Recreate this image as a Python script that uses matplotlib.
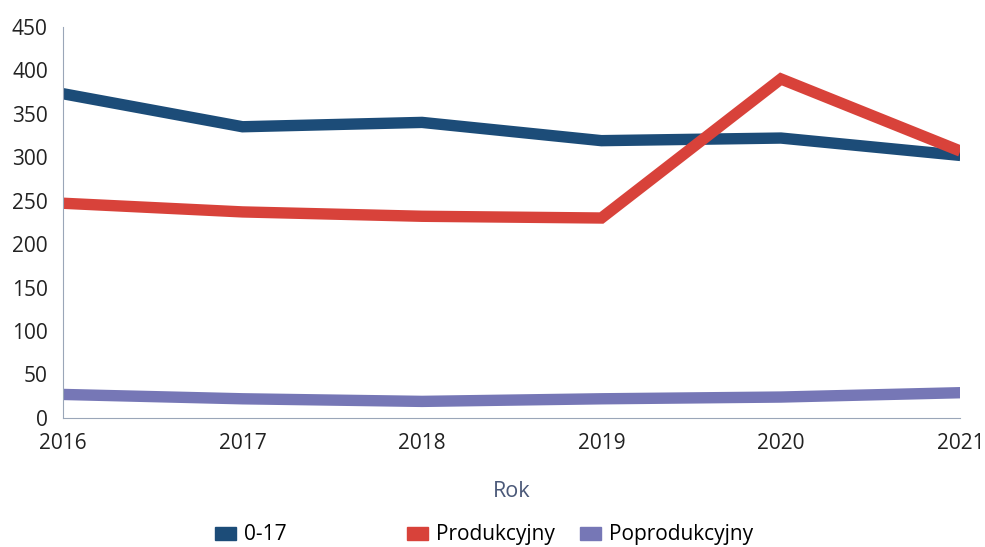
import matplotlib.pyplot as plt

plt.rcParams['font.family'] = ['Open Sans', 'DejaVu Sans']

years = [2016, 2017, 2018, 2019, 2020, 2021]
s_0_17 = [373, 335, 340, 319, 322, 302]
s_prod = [247, 237, 232, 230, 390, 307]
s_poprod = [27, 22, 19, 22, 24, 29]

labels = ['0-17', 'Produkcyjny', 'Poprodukcyjny']
colors = ['#1c4c78', '#d8423a', '#7677b6']

fig = plt.figure(figsize=(9.85, 5.47), dpi=100)
ax = fig.add_axes([0.064, 0.236, 0.911, 0.715])

for vals, lab, col in zip([s_0_17, s_prod, s_poprod], labels, colors):
    ax.plot(years, vals, color=col, lw=8.2, label=lab, solid_joinstyle='miter',
            solid_capstyle='butt')

ax.set_xlim(2016, 2021)
ax.set_ylim(0, 450)
ax.set_yticks(range(0, 451, 50))
ax.set_xticks(years)
ax.tick_params(length=0, labelsize=15, colors='#222222')
ax.tick_params(axis='y', pad=11)
ax.tick_params(axis='x', pad=11)
for s in ['top', 'right']:
    ax.spines[s].set_visible(False)
ax.spines['left'].set_color('#9aa6b8')
ax.spines['bottom'].set_color('#9aa6b8')
ax.spines['left'].set_linewidth(0.8)
ax.spines['bottom'].set_linewidth(0.8)

ax.set_xlabel('Rok', fontsize=15.5, color='#4a5878', labelpad=19)

# legend entries sit at fixed slots, not evenly packed
slots = [0.218, 0.413, 0.589]
for lab, col, x in zip(labels, colors, slots):
    h = plt.Rectangle((0, 0), 1, 1, color=col)
    fig.legend([h], [lab], loc='center left', bbox_to_anchor=(x, 0.022),
               frameon=False, fontsize=15, handlelength=1.0, handleheight=0.6,
               handletextpad=0.4, borderpad=0, borderaxespad=0)

fig.savefig('out.png', dpi=100)
